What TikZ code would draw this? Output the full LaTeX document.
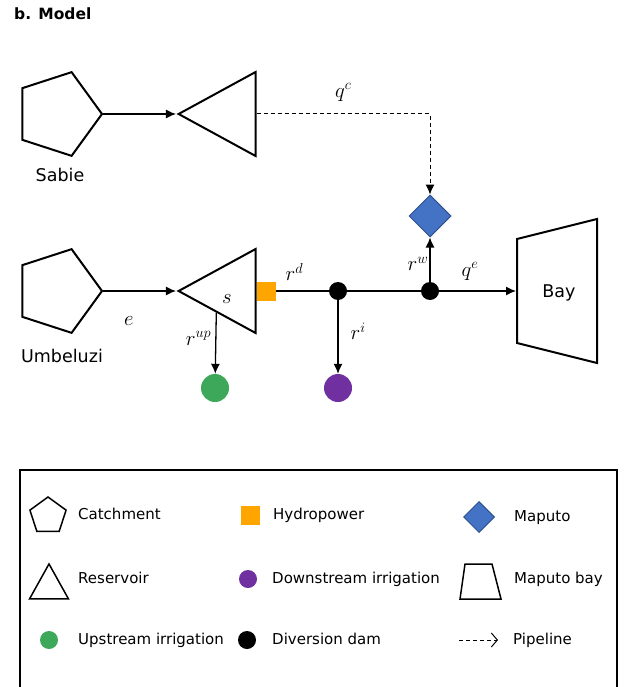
\documentclass[tikz,border=0pt]{standalone}
\usepackage{amsmath, amssymb}
\usepackage[no-math]{fontspec}
\setmainfont{DejaVu Sans}
\usepackage{tikz}
\usetikzlibrary{calc}
\usetikzlibrary{positioning}
\usetikzlibrary{arrows.meta}
\usetikzlibrary{shapes.geometric}

\definecolor{hpcol}{RGB}{255,165,0}
\definecolor{upcol}{RGB}{62,168,90}
\definecolor{dncol}{RGB}{112,48,160}
\definecolor{mapcol}{RGB}{68,114,196}
\definecolor{mapline}{RGB}{47,82,143}

\tikzset{
  catch/.style={draw, line width=2pt, regular polygon, regular polygon sides=5, inner sep=0pt},
  res/.style={draw, line width=2pt, isosceles triangle, isosceles triangle stretches, inner sep=0pt},
  dot/.style={circle, inner sep=0pt, fill=#1},
  hpbox/.style={rectangle, fill=hpcol, inner sep=0pt},
  city/.style={diamond, fill=mapcol, draw=mapline, line width=1pt, inner sep=0pt},
  flow/.style={line width=1.3pt},
  pipe/.style={line width=1pt, dash pattern=on 4pt off 3pt},
  lbl/.style={inner sep=0pt, font=\fontsize{20}{24}\selectfont},
  legtxt/.style={anchor=west, inner sep=0pt, font=\fontsize{15}{18}\selectfont, text height=11pt, text depth=3pt}
}

\begin{document}
\begin{tikzpicture}[x=1pt, y=-1pt, >={Latex[length=10pt,width=9pt]}, font=\fontsize{17.5}{21}\selectfont]
\useasboundingbox (0,0) rectangle (623,687);

\node[anchor=west, inner sep=0pt, font=\fontsize{15.5}{18}\selectfont\bfseries] (title) at (14,14) {b. Model};

\node[catch, minimum size=88pt, shape border rotate=-90] (sabie) at (58,114) {};
\node[catch, minimum size=88pt, shape border rotate=-90] (umbeluzi) at (58,291) {};
\node[inner sep=0pt] (sabielbl) at (60,175) {Sabie};
\node[inner sep=0pt] (umblbl) at (62,356) {Umbeluzi};

\node[res, minimum width=84pt, minimum height=77pt, shape border rotate=180, anchor=apex] (resS) at (176,114) {};
\node[res, minimum width=84pt, minimum height=77pt, shape border rotate=180, anchor=apex] (resU) at (176,291) {};
\node[lbl] (stor) at (227,299) {$s$};

\node[hpbox, minimum size=19pt, anchor=west] (hp) at (resU.east) {};
\node[dot=black, minimum size=18pt] (divi) at (338,291) {};
\node[dot=black, minimum size=18pt] (divw) at (430,291) {};
\node[dot=upcol, minimum size=28pt] (irrup) at (215,388) {};
\node[dot=dncol, minimum size=28pt] (irrdn) at (338,388) {};
\node[city, minimum size=42pt] (maputo) at (430,216) {};
\node[inner sep=0pt] (bay) at (559,293) {Bay};
\coordinate (bayin) at (516,291);
\draw[line width=2pt] (517,239) -- (597,219) -- (597,363) -- (517,343) -- cycle;

\draw[flow, ->] (sabie) -- (resS);
\draw[flow, ->] (umbeluzi) -- node[lbl, below=25pt, pos=.35] {$e$} (resU);
\draw[pipe, ->] (resS.east) -| node[lbl, above=12pt, pos=.25] {$q^c$} (maputo);
\draw[flow, ->] ($(resU.apex)!.5!(resU.left corner)$) -- node[lbl, left=4pt, pos=.42] {$r^{up}$} (irrup);
\draw[flow] (hp) -- node[lbl, above=9.5pt, pos=.35] {$r^d$} (divi);
\draw[flow] (divi) -- (divw);
\draw[flow, ->] (divi) -- node[lbl, right=12pt, pos=.42] {$r^i$} (irrdn);
\draw[flow, ->] (divw) -- node[lbl, left=1pt, pos=.4] {$r^w$} (maputo);
\draw[flow, ->] (divw) -- node[lbl, above=10pt, pos=.4] {$q^e$} (bayin);

\draw[line width=2pt] (20,470) rectangle (617,700);

\node[catch, line width=1.5pt, minimum size=38pt] (kcatch) at (48,516) {};
\node[res, line width=1.5pt, minimum width=39pt, minimum height=35pt, shape border rotate=90, anchor=apex] (kres) at (49,562) {};
\node[dot=upcol, minimum size=18pt] (kup) at (49,640) {};
\node[hpbox, minimum size=19pt] (khp) at (250,515) {};
\node[dot=dncol, minimum size=18pt] (kdn) at (248,579) {};
\node[dot=black, minimum size=18pt] (kdiv) at (247,640) {};
\node[city, minimum size=31pt] (kmap) at (479,517) {};
\draw[line width=1.5pt] (465,564) -- (492,564) -- (501,599) -- (460,599) -- cycle;
\coordinate (kpa) at (459,640);
\coordinate (kpb) at (498,640);
\draw[pipe, -{Straight Barb[length=6pt,width=14pt]}] (kpa) -- (kpb);

\foreach \n/\x/\y/\t in {a/78/515/Catchment, b/273/515/Hydropower, c/514/517/Maputo,
    d/78/579/Reservoir, e/272/579/Downstream irrigation, f/514/579/Maputo bay,
    g/78/640/Upstream irrigation, h/272/640/Diversion dam, i/513/640/Pipeline}
  \node[legtxt] (txt\n) at (\x,\y) {\t};
\end{tikzpicture}
\end{document}
